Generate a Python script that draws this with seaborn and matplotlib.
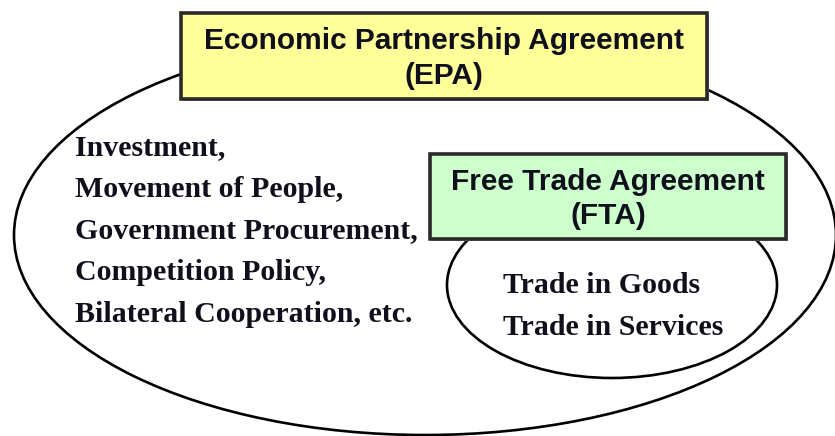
import matplotlib

matplotlib.use("Agg")
import matplotlib.pyplot as plt
import seaborn as sns
from matplotlib.patches import Ellipse, Rectangle

# --- content ---------------------------------------------------------------
epa_title = ["Economic Partnership Agreement", "(EPA)"]
fta_title = ["Free Trade Agreement", "(FTA)"]
epa_items = [
    "Investment,",
    "Movement of People,",
    "Government Procurement,",
    "Competition Policy,",
    "Bilateral Cooperation, etc.",
]
fta_items = ["Trade in Goods", "Trade in Services"]

W, H = 835, 436
INK = "#10101c"

sns.set_theme(style="white")
plt.rcParams["font.family"] = ["Liberation Sans", "DejaVu Sans"]

fig = plt.figure(figsize=(W / 100, H / 100), dpi=100)
ax = fig.add_axes([0, 0, 1, 1])
ax.set_xlim(0, W)
ax.set_ylim(H, 0)  # pixel coords, y down
ax.axis("off")

# outer EPA ellipse and inner FTA ellipse
ax.add_patch(Ellipse((425, 235), 822, 400, fill=False, ec="black", lw=1.9, zorder=1))
ax.add_patch(Ellipse((612, 285), 330, 186, fill=False, ec="black", lw=1.9, zorder=1))


def title_box(x0, y0, x1, y1, face, lines, y_lines, size):
    ax.add_patch(Rectangle((x0 + 2, y0 + 2), x1 - x0, y1 - y0,
                           fc="#9a9a9a", ec="none", zorder=2))
    ax.add_patch(Rectangle((x0, y0), x1 - x0, y1 - y0,
                           fc=face, ec="#2a2a2a", lw=2.6, zorder=3))
    for txt, y in zip(lines, y_lines):
        ax.text((x0 + x1) / 2, y, txt, ha="center", va="center",
                fontsize=size, fontweight="bold", color=INK, zorder=4)


title_box(181, 13, 707, 99, "#ffff99", epa_title, [41, 76], 21.5)
title_box(430, 154, 786, 239, "#ccffcc", fta_title, [182, 216], 21.5)

serif = ["Liberation Serif", "DejaVu Serif"]
for txt, y in zip(epa_items, [148, 189, 231, 272, 314]):
    ax.text(75, y, txt, ha="left", va="center", family=serif,
            fontsize=21.5, fontweight="bold", color=INK, zorder=4)
for txt, y in zip(fta_items, [285, 327]):
    ax.text(503, y, txt, ha="left", va="center", family=serif,
            fontsize=21.5, fontweight="bold", color=INK, zorder=4)

fig.savefig("out.png", dpi=100, facecolor="white")
plt.close(fig)
